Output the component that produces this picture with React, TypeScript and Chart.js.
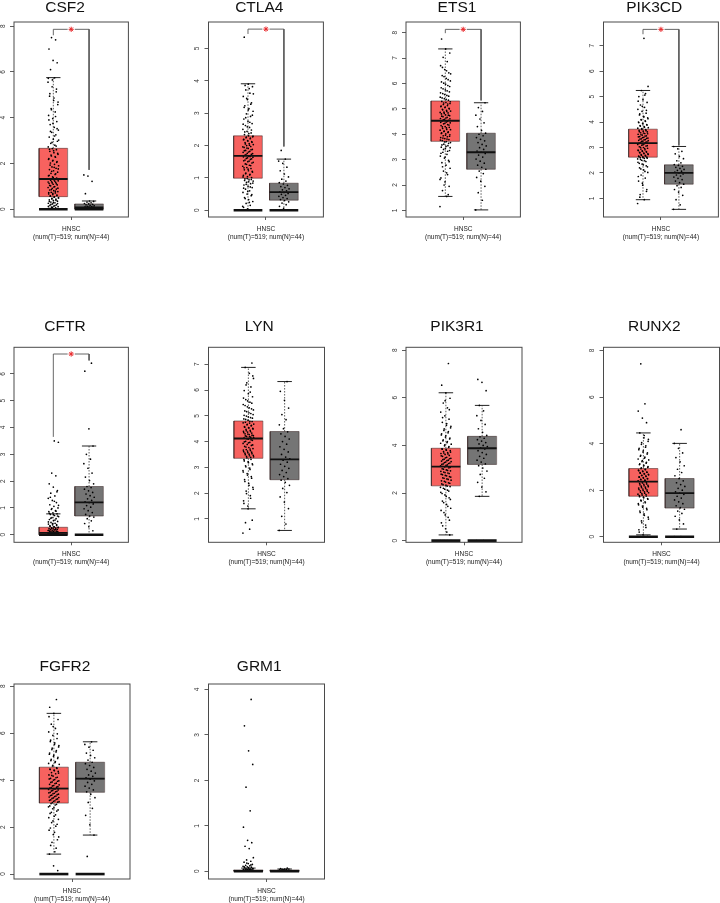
import React, { useEffect, useRef } from 'react';
import { Chart, registerables } from 'chart.js';

Chart.register(...registerables);

const FONT = "'Liberation Sans', Arial, Helvetica, sans-serif";
Chart.defaults.font.family = FONT;

// ---------------- data ----------------
const GENES = ['CSF2', 'CTLA4', 'ETS1', 'PIK3CD', 'CFTR', 'LYN', 'PIK3R1', 'RUNX2', 'FGFR2', 'GRM1'];
const X_LABEL = ['HNSC', '(num(T)=519; num(N)=44)'];

const Y_MIN = [-0.34, -0.21, 0.74, 0.27, -0.28, 0.09, -0.07, -0.24, -0.21, -0.17];
const Y_MAX = [8.18, 5.82, 8.42, 7.93, 6.99, 7.66, 8.12, 8.14, 8.09, 4.12];
const Y_TICKS = [
  [0, 2, 4, 6, 8],
  [0, 1, 2, 3, 4, 5],
  [1, 2, 3, 4, 5, 6, 7, 8],
  [1, 2, 3, 4, 5, 6, 7],
  [0, 1, 2, 3, 4, 5, 6],
  [1, 2, 3, 4, 5, 6, 7],
  [0, 2, 4, 6, 8],
  [0, 2, 4, 6, 8],
  [0, 2, 4, 6, 8],
  [0, 1, 2, 3, 4],
];

// [lower whisker, Q1, median, Q3, upper whisker]
const TUMOR_BOX = [
  [0, 0.55, 1.32, 2.66, 5.75],
  [0, 0.99, 1.68, 2.3, 3.91],
  [1.55, 3.72, 4.53, 5.31, 7.36],
  [0.95, 2.62, 3.17, 3.72, 5.24],
  [0, 0, 0.07, 0.28, 0.78],
  [1.39, 3.35, 4.12, 4.8, 6.88],
  [0.24, 2.3, 3.11, 3.88, 6.21],
  [0.08, 1.74, 2.37, 2.93, 4.46],
  [0.85, 3.02, 3.64, 4.55, 6.84],
  [0, 0, 0.01, 0.03, 0.07],
];
const NORMAL_BOX = [
  [0, 0, 0.08, 0.23, 0.36],
  [0, 0.31, 0.56, 0.835, 1.58],
  [1.02, 2.62, 3.29, 4.04, 5.24],
  [0.57, 1.56, 2.0, 2.32, 3.04],
  [0, 0.7, 1.21, 1.8, 3.31],
  [0.55, 2.52, 3.31, 4.39, 6.33],
  [1.86, 3.2, 3.88, 4.38, 5.68],
  [0.33, 1.23, 1.87, 2.5, 4.01],
  [1.66, 3.48, 4.06, 4.76, 5.63],
  [0, 0, 0.01, 0.03, 0.05],
];
const TUMOR_ZERO_BAR = [true, true, false, false, true, false, true, true, true, true];
const NORMAL_ZERO_BAR = [true, true, false, false, true, false, true, true, true, true];

// [bracket top, tumour leg end, normal leg end] or null
const SIG_BRACKET: (number[] | null)[] = [
  [7.86, 7.6, 1.72],
  [5.6, 5.45, 1.97],
  [8.13, 7.98, 5.33],
  [7.64, 7.45, 3.08],
  [6.74, 3.65, 6.5],
  null, null, null, null, null,
];

const CSF2_T = [0, 0, 0, 0, 0.02, 0.04, 0.06, 0.09, 0.11, 0.14, 0.17, 0.19, 0.23, 0.26, 0.28, 0.31, 0.35, 0.38, 0.41, 0.44, 0.47, 0.5, 0.53,
  0.57, 0.6, 0.64, 0.67, 0.71, 0.74, 0.77, 0.81, 0.84, 0.88, 0.91, 0.95, 0.99, 1.02, 1.06, 1.09, 1.13, 1.17, 1.2, 1.24, 1.28, 1.31,
  1.36, 1.41, 1.46, 1.52, 1.57, 1.62, 1.68, 1.73, 1.79, 1.85, 1.9, 1.96, 2.02, 2.08, 2.14, 2.21, 2.27, 2.33, 2.4, 2.47, 2.53, 2.6, 2.65,
  2.72, 2.8, 2.88, 2.97, 3.06, 3.15, 3.25, 3.36, 3.46, 3.58, 3.7, 3.83, 3.96, 4.1, 4.25, 4.4, 4.57, 4.75, 4.94, 5.13, 5.35, 5.55, 5.74,
  6.1, 6.4, 6.5, 7.0, 7.4, 7.5,
  0, 0, 0.01, 0.03, 0.08, 0.12, 0.16, 0.21, 0.25, 0.3, 0.34, 0.39, 0.45, 0.49, 0.54,
  0.58, 0.62, 0.69, 0.73, 0.79, 0.86, 0.92, 0.97, 1.04, 1.11, 1.15, 1.19, 1.23, 1.27, 1.3,
  1.38, 1.48, 1.55, 1.66, 1.76, 1.83, 1.93, 2.05, 2.11, 2.18, 2.3, 2.37, 2.44, 2.56, 2.62,
  2.76, 2.92, 3.02, 3.2, 3.4, 3.52, 3.75, 3.9, 4.05, 4.35, 4.68, 4.86, 5.05, 5.25, 5.65, 5.72];
const CSF2_N = [0, 0, 0, 0, 0, 0, 0, 0, 0.01, 0.02, 0.03, 0.04, 0.05, 0.06, 0.07, 0.08, 0.08, 0.09, 0.1, 0.11, 0.13, 0.15, 0.17, 0.19,
  0.21, 0.23, 0.25, 0.28, 0.31, 0.34, 0.36, 0.68, 1.22, 1.45, 1.5];

const CTLA4_T = [0, 0, 0, 0, 0.04, 0.09, 0.15, 0.21, 0.27, 0.33, 0.39, 0.45, 0.5, 0.55, 0.6, 0.65, 0.7, 0.74, 0.78, 0.82, 0.86, 0.9, 0.94, 0.97,
  1.01, 1.04, 1.08, 1.11, 1.15, 1.18, 1.22, 1.25, 1.29, 1.32, 1.36, 1.39, 1.43, 1.46, 1.5, 1.53, 1.57, 1.6, 1.64, 1.67,
  1.7, 1.73, 1.76, 1.79, 1.82, 1.85, 1.88, 1.91, 1.94, 1.97, 2.0, 2.03, 2.06, 2.09, 2.12, 2.15, 2.18, 2.21, 2.24, 2.27, 2.3,
  2.34, 2.39, 2.44, 2.5, 2.56, 2.62, 2.68, 2.75, 2.82, 2.9, 2.98, 3.06, 3.14, 3.23, 3.32, 3.42, 3.52, 3.62, 3.72, 3.82, 3.9, 5.35,
  0, 0.02, 0.12, 0.24, 0.36, 0.48, 0.58, 0.68, 0.72, 0.8, 0.84, 0.88, 0.92, 0.95, 0.98,
  1.03, 1.09, 1.13, 1.2, 1.27, 1.31, 1.38, 1.42, 1.48, 1.52, 1.55, 1.59, 1.62, 1.65, 1.66,
  1.72, 1.75, 1.8, 1.84, 1.87, 1.92, 1.96, 2.01, 2.05, 2.1, 2.14, 2.19, 2.23, 2.26, 2.29,
  2.37, 2.42, 2.48, 2.58, 2.66, 2.72, 2.86, 2.94, 3.1, 3.18, 3.28, 3.46, 3.6, 3.76, 3.86];
const CTLA4_N = [0, 0, 0, 0, 0.06, 0.12, 0.17, 0.22, 0.26, 0.3, 0.33, 0.36, 0.39, 0.43, 0.46, 0.49, 0.52, 0.55, 0.57, 0.6, 0.63, 0.66, 0.7,
  0.73, 0.77, 0.81, 0.85, 0.9, 0.96, 1.03, 1.12, 1.22, 1.33, 1.45, 1.52, 1.58, 1.85];

const ETS1_T = [1.15, 1.55, 1.78, 1.95, 2.12, 2.28, 2.41, 2.55, 2.66, 2.78, 2.88, 2.97, 3.06, 3.14, 3.21, 3.29, 3.36, 3.43, 3.49, 3.55, 3.61, 3.67, 3.71,
  3.75, 3.79, 3.83, 3.87, 3.9, 3.94, 3.98, 4.01, 4.05, 4.09, 4.12, 4.16, 4.19, 4.23, 4.27, 4.3, 4.34, 4.38, 4.41, 4.45, 4.48, 4.52,
  4.55, 4.59, 4.62, 4.66, 4.69, 4.73, 4.76, 4.8, 4.84, 4.87, 4.91, 4.94, 4.98, 5.02, 5.05, 5.09, 5.13, 5.17, 5.21, 5.25, 5.29,
  5.34, 5.4, 5.46, 5.53, 5.6, 5.67, 5.75, 5.83, 5.92, 6.01, 6.1, 6.2, 6.31, 6.42, 6.55, 6.7, 6.86, 7.03, 7.2, 7.36, 7.75,
  1.62, 2.0, 2.22, 2.48, 2.72, 2.92, 3.1, 3.25, 3.33, 3.4, 3.47, 3.52, 3.58, 3.64, 3.7,
  3.77, 3.81, 3.85, 3.92, 3.96, 4.03, 4.07, 4.11, 4.18, 4.25, 4.29, 4.36, 4.43, 4.47, 4.51,
  4.57, 4.61, 4.64, 4.71, 4.75, 4.82, 4.86, 4.9, 4.96, 5.0, 5.07, 5.11, 5.19, 5.23, 5.28,
  5.37, 5.43, 5.5, 5.56, 5.63, 5.71, 5.79, 5.88, 5.97, 6.06, 6.15, 6.27, 6.38, 6.5, 6.63];
const ETS1_N = [1.02, 1.4, 1.7, 1.95, 2.15, 2.3, 2.45, 2.55, 2.62, 2.7, 2.78, 2.86, 2.94, 3.02, 3.1, 3.18, 3.24, 3.29, 3.34, 3.4, 3.47, 3.54,
  3.6, 3.67, 3.74, 3.8, 3.87, 3.94, 4.0, 4.04, 4.15, 4.3, 4.45, 4.6, 4.75, 4.9, 5.05, 5.24];

const PIK3CD_T = [0.8, 0.95, 1.15, 1.35, 1.52, 1.68, 1.8, 1.92, 2.02, 2.12, 2.2, 2.28, 2.35, 2.42, 2.48, 2.53, 2.58, 2.61,
  2.64, 2.67, 2.7, 2.73, 2.76, 2.79, 2.82, 2.85, 2.88, 2.91, 2.94, 2.97, 3.0, 3.03, 3.06, 3.09, 3.12, 3.15,
  3.19, 3.22, 3.25, 3.28, 3.31, 3.34, 3.37, 3.4, 3.43, 3.46, 3.49, 3.52, 3.55, 3.58, 3.61, 3.64, 3.67, 3.7,
  3.74, 3.78, 3.82, 3.86, 3.9, 3.95, 4.0, 4.05, 4.1, 4.16, 4.22, 4.28, 4.35, 4.42, 4.5, 4.58, 4.67, 4.77, 4.88, 5.0, 5.12, 5.24, 5.4, 7.29,
  1.05, 1.28, 1.6, 1.86, 2.06, 2.16, 2.24, 2.32, 2.38, 2.45, 2.5, 2.55, 2.57, 2.6, 2.62,
  2.63, 2.66, 2.69, 2.72, 2.75, 2.78, 2.81, 2.84, 2.87, 2.9, 2.96, 3.01, 3.07, 3.11, 3.16,
  3.2, 3.24, 3.27, 3.3, 3.33, 3.36, 3.39, 3.42, 3.45, 3.5, 3.54, 3.57, 3.62, 3.66, 3.71,
  3.76, 3.8, 3.84, 3.88, 3.93, 3.98, 4.03, 4.08, 4.13, 4.2, 4.32, 4.46, 4.62, 4.82, 5.06];
const PIK3CD_N = [0.57, 0.75, 0.95, 1.12, 1.25, 1.35, 1.43, 1.5, 1.56, 1.62, 1.68, 1.74, 1.79, 1.84, 1.88, 1.92, 1.96, 2.0, 2.03, 2.07,
  2.1, 2.14, 2.18, 2.22, 2.26, 2.3, 2.33, 2.4, 2.48, 2.56, 2.65, 2.75, 2.85, 2.95, 3.04];

const CFTR_T = [0, 0, 0, 0, 0, 0, 0, 0, 0, 0, 0, 0, 0.01, 0.01, 0.02, 0.02, 0.03, 0.03, 0.04, 0.04, 0.05, 0.05, 0.06, 0.06, 0.07, 0.07,
  0.08, 0.09, 0.1, 0.11, 0.12, 0.13, 0.14, 0.15, 0.16, 0.18, 0.19, 0.2, 0.22, 0.23, 0.25, 0.26, 0.28,
  0.3, 0.32, 0.35, 0.37, 0.4, 0.43, 0.46, 0.5, 0.53, 0.57, 0.6, 0.64, 0.68, 0.72, 0.76, 0.78,
  0.82, 0.86, 0.9, 0.95, 1.0, 1.06, 1.12, 1.2, 1.28, 1.36, 1.45, 1.55, 1.65, 1.78, 1.9, 2.2, 2.3, 3.45, 3.5,
  0, 0, 0, 0, 0, 0, 0.01, 0.02, 0.03, 0.04, 0.05, 0.06, 0.08, 0.1, 0.12, 0.14, 0.17, 0.21, 0.24, 0.27, 0.29,
  0.33, 0.38, 0.42, 0.48, 0.55, 0.62, 0.7, 0.75, 0.8, 0.88, 0.98, 1.1, 1.25, 1.4, 1.6];
const CFTR_N = [0, 0, 0, 0.15, 0.3, 0.42, 0.52, 0.6, 0.66, 0.7, 0.76, 0.83, 0.9, 0.97, 1.03, 1.09, 1.15, 1.2, 1.23, 1.28, 1.34, 1.4,
  1.46, 1.52, 1.58, 1.64, 1.7, 1.76, 1.8, 1.9, 2.02, 2.15, 2.3, 2.48, 2.65, 2.82, 3.0, 3.31, 3.95, 6.1, 6.4];

const LYN_T = [0.45, 0.6, 0.85, 0.95, 1.39, 1.6, 1.8, 1.98, 2.15, 2.3, 2.45, 2.58, 2.7, 2.82, 2.92, 3.02, 3.1, 3.18, 3.25, 3.31,
  3.37, 3.41, 3.45, 3.49, 3.53, 3.57, 3.61, 3.65, 3.69, 3.73, 3.77, 3.81, 3.85, 3.89, 3.93, 3.97, 4.01, 4.05, 4.09,
  4.14, 4.17, 4.2, 4.23, 4.27, 4.3, 4.33, 4.37, 4.4, 4.44, 4.47, 4.51, 4.54, 4.58, 4.61, 4.65, 4.68, 4.72, 4.75, 4.78,
  4.83, 4.88, 4.93, 4.99, 5.05, 5.12, 5.19, 5.27, 5.35, 5.44, 5.53, 5.63, 5.74, 5.86, 5.98, 6.12, 6.28, 6.45, 6.65, 6.88, 7.05,
  1.5, 1.7, 1.9, 2.08, 2.22, 2.38, 2.52, 2.64, 2.76, 2.87, 2.97, 3.06, 3.14, 3.22, 3.3,
  3.39, 3.43, 3.47, 3.51, 3.55, 3.59, 3.63, 3.67, 3.71, 3.79, 3.87, 3.95, 3.99, 4.07, 4.11,
  4.15, 4.19, 4.22, 4.25, 4.29, 4.35, 4.39, 4.42, 4.49, 4.53, 4.56, 4.63, 4.67, 4.73, 4.79,
  4.86, 4.91, 4.96, 5.02, 5.09, 5.16, 5.23, 5.31, 5.4, 5.49, 5.58, 5.69, 5.92, 6.2, 6.55];
const LYN_N = [0.55, 0.8, 1.1, 1.4, 1.65, 1.85, 2.02, 2.18, 2.3, 2.42, 2.5, 2.56, 2.64, 2.72, 2.8, 2.88, 2.96, 3.04, 3.12, 3.2, 3.28,
  3.33, 3.4, 3.5, 3.6, 3.7, 3.8, 3.9, 4.0, 4.1, 4.2, 4.3, 4.38, 4.5, 4.65, 4.85, 5.05, 5.3, 5.6, 5.95, 6.33];

const PIK3R1_T = [0, 0, 0, 0.24, 0.5, 0.75, 0.98, 1.18, 1.36, 1.52, 1.66, 1.8, 1.92, 2.03, 2.12, 2.2, 2.27,
  2.33, 2.38, 2.43, 2.49, 2.54, 2.59, 2.64, 2.69, 2.74, 2.79, 2.84, 2.88, 2.93, 2.97, 3.02, 3.06, 3.1,
  3.14, 3.18, 3.22, 3.26, 3.3, 3.34, 3.38, 3.42, 3.46, 3.5, 3.54, 3.58, 3.62, 3.66, 3.7, 3.74, 3.78, 3.82, 3.86,
  3.92, 3.98, 4.05, 4.12, 4.19, 4.27, 4.35, 4.44, 4.53, 4.63, 4.74, 4.85, 4.97, 5.1, 5.24, 5.4, 5.58, 5.78, 5.98, 6.21, 6.53, 7.44,
  0, 0, 0.36, 0.62, 0.86, 1.08, 1.27, 1.44, 1.6, 1.73, 1.86, 1.98, 2.08, 2.16, 2.24, 2.29,
  2.35, 2.41, 2.46, 2.51, 2.57, 2.62, 2.67, 2.72, 2.77, 2.82, 2.86, 2.91, 2.95, 3.0, 3.08,
  3.16, 3.2, 3.24, 3.28, 3.32, 3.36, 3.4, 3.44, 3.48, 3.56, 3.64, 3.68, 3.72, 3.8, 3.84,
  3.95, 4.02, 4.09, 4.16, 4.23, 4.31, 4.4, 4.49, 4.58, 4.69, 4.8, 4.92, 5.17, 5.5, 5.88];
const PIK3R1_N = [0, 0, 1.86, 2.05, 2.25, 2.45, 2.62, 2.78, 2.92, 3.05, 3.15, 3.22, 3.3, 3.38, 3.46, 3.54, 3.62, 3.7, 3.78, 3.85, 3.9,
  3.95, 4.0, 4.06, 4.12, 4.18, 4.24, 4.3, 4.36, 4.42, 4.55, 4.7, 4.88, 5.05, 5.25, 5.45, 5.68, 6.3, 6.65, 6.77];

const RUNX2_T = [0, 0, 0, 0, 0.08, 0.3, 0.5, 0.68, 0.84, 0.98, 1.1, 1.22, 1.32, 1.42, 1.5, 1.57, 1.64, 1.7,
  1.77, 1.81, 1.85, 1.89, 1.93, 1.97, 2.01, 2.05, 2.09, 2.13, 2.17, 2.21, 2.25, 2.29, 2.33, 2.36,
  2.4, 2.43, 2.47, 2.5, 2.54, 2.57, 2.61, 2.64, 2.68, 2.71, 2.75, 2.78, 2.82, 2.86, 2.9, 2.93,
  2.98, 3.04, 3.1, 3.16, 3.23, 3.3, 3.38, 3.46, 3.55, 3.64, 3.74, 3.85, 3.97, 4.1, 4.25, 4.46, 4.9, 5.1, 5.4, 5.71, 7.43,
  0, 0, 0.2, 0.4, 0.6, 0.76, 0.92, 1.04, 1.16, 1.27, 1.37, 1.46, 1.54, 1.61, 1.67, 1.72,
  1.75, 1.79, 1.83, 1.87, 1.91, 1.95, 1.99, 2.03, 2.07, 2.11, 2.15, 2.19, 2.23, 2.27, 2.31,
  2.38, 2.42, 2.45, 2.49, 2.52, 2.56, 2.59, 2.63, 2.66, 2.7, 2.73, 2.77, 2.8, 2.84, 2.88,
  2.96, 3.01, 3.07, 3.13, 3.2, 3.27, 3.34, 3.42, 3.5, 3.6, 3.69, 3.8, 3.91, 4.04, 4.18, 4.35];
const RUNX2_N = [0, 0, 0.33, 0.55, 0.72, 0.88, 1.0, 1.1, 1.18, 1.25, 1.33, 1.42, 1.5, 1.58, 1.66, 1.74, 1.82, 1.87, 1.93, 2.0, 2.08,
  2.16, 2.24, 2.32, 2.4, 2.5, 2.62, 2.76, 2.9, 3.05, 3.22, 3.4, 3.6, 3.8, 4.01, 4.6];

const FGFR2_T = [0, 0, 0, 0.15, 0.35, 0.85, 1.1, 1.35, 1.58, 1.78, 1.96, 2.12, 2.26, 2.4, 2.52, 2.63, 2.73, 2.82, 2.9, 2.97,
  3.04, 3.08, 3.12, 3.16, 3.2, 3.24, 3.28, 3.32, 3.36, 3.4, 3.44, 3.48, 3.52, 3.56, 3.6, 3.63,
  3.68, 3.72, 3.77, 3.82, 3.87, 3.92, 3.97, 4.02, 4.07, 4.12, 4.17, 4.22, 4.27, 4.32, 4.37, 4.42, 4.47, 4.52,
  4.6, 4.67, 4.75, 4.83, 4.92, 5.01, 5.1, 5.2, 5.3, 5.41, 5.52, 5.64, 5.77, 5.9, 6.05, 6.2, 6.38, 6.58, 6.84, 7.1, 7.43,
  0, 0, 0.95, 1.22, 1.46, 1.68, 1.87, 2.04, 2.19, 2.33, 2.46, 2.58, 2.68, 2.78, 2.86, 2.94, 3.0,
  3.06, 3.1, 3.14, 3.18, 3.22, 3.26, 3.3, 3.34, 3.38, 3.42, 3.46, 3.5, 3.54, 3.58, 3.62,
  3.66, 3.7, 3.75, 3.8, 3.85, 3.9, 3.95, 4.0, 4.05, 4.1, 4.2, 4.3, 4.4, 4.45, 4.5,
  4.63, 4.71, 4.79, 4.88, 4.97, 5.06, 5.15, 5.25, 5.36, 5.47, 5.58, 5.7, 5.97, 6.28, 6.7];
const FGFR2_N = [0, 0, 0.75, 1.66, 2.1, 2.5, 2.8, 3.05, 3.25, 3.4, 3.5, 3.58, 3.66, 3.74, 3.82, 3.9, 3.97, 4.04, 4.1, 4.16, 4.22,
  4.3, 4.38, 4.46, 4.54, 4.62, 4.7, 4.76, 4.85, 4.95, 5.05, 5.15, 5.27, 5.4, 5.52, 5.63];

const GRM1_T = [0, 0, 0, 0, 0, 0, 0, 0, 0, 0, 0, 0, 0, 0, 0, 0.01, 0.01, 0.01, 0.01, 0.02, 0.02, 0.02, 0.03, 0.03, 0.03, 0.04, 0.04,
  0.05, 0.05, 0.06, 0.07, 0.08, 0.09, 0.1, 0.11, 0.12, 0.13, 0.15, 0.17, 0.2, 0.22, 0.25, 0.3, 0.5, 0.55, 0.63, 0.68, 0.97, 1.33,
  1.85, 2.35, 2.65, 3.2, 3.78,
  0, 0, 0, 0, 0, 0, 0, 0, 0, 0, 0.01, 0.01, 0.02, 0.02, 0.03, 0.04, 0.05, 0.06, 0.08, 0.1, 0.14, 0.18];
const GRM1_N = [0, 0, 0, 0, 0, 0, 0, 0, 0.01, 0.01, 0.02, 0.02, 0.03, 0.03, 0.04, 0.04, 0.05, 0.05, 0.06, 0.07];

const TUMOR_POINTS = [CSF2_T, CTLA4_T, ETS1_T, PIK3CD_T, CFTR_T, LYN_T, PIK3R1_T, RUNX2_T, FGFR2_T, GRM1_T];
const NORMAL_POINTS = [CSF2_N, CTLA4_N, ETS1_N, PIK3CD_N, CFTR_N, LYN_N, PIK3R1_N, RUNX2_N, FGFR2_N, GRM1_N];

// ---------------- layout / style ----------------
const COL_X = [14, 208.5, 406, 603.5];
const ROW_Y = [22, 347.3, 684];
const TITLE_Y = [7.3, 326.5, 666.8];
const BOX_W = 116;
const BOX_H = 195;
const TUMOR_FILL = '#F7625F';
const NORMAL_FILL = '#757575';
const HALF_W = 0.4;
const CAP_W = 0.2;
const JITTER = 0.3;

const framePlugin = {
  id: 'panelFrame',
  afterDraw(chart: any) {
    const { ctx, chartArea } = chart;
    ctx.save();
    ctx.strokeStyle = '#4a4a4a';
    ctx.lineWidth = 1;
    ctx.strokeRect(chartArea.left, chartArea.top, chartArea.right - chartArea.left, chartArea.bottom - chartArea.top);
    ctx.restore();
  },
};

const seg = (extra: any) => ({
  type: 'line',
  showLine: true,
  pointRadius: 0,
  pointHoverRadius: 0,
  fill: false,
  spanGaps: false,
  ...extra,
});

function groupDatasets(c: number, box: number[], pts: number[], zeroBar: boolean, fillColor: string) {
  const [lo, q1, med, q3, hi] = box;
  const ds: any[] = [
    seg({
      data: [{ x: c - HALF_W, y: q3 }, { x: c + HALF_W, y: q3 }],
      fill: { value: q1 },
      backgroundColor: fillColor,
      borderColor: 'rgba(0,0,0,0)',
      borderWidth: 1,
      order: 6,
    }),
    seg({
      data: [
        { x: c - HALF_W, y: q1 }, { x: c + HALF_W, y: q1 }, { x: c + HALF_W, y: q3 },
        { x: c - HALF_W, y: q3 }, { x: c - HALF_W, y: q1 },
      ],
      borderColor: 'rgba(40,20,20,0.6)',
      borderWidth: 0.8,
      order: 5,
    }),
    seg({
      data: [{ x: c, y: q3 }, { x: c, y: hi }, { x: c, y: null }, { x: c, y: q1 }, { x: c, y: lo }],
      borderColor: '#333',
      borderWidth: 0.8,
      borderDash: [1.5, 1.5],
      order: 4,
    }),
    seg({
      data: [
        { x: c - CAP_W, y: hi }, { x: c + CAP_W, y: hi }, { x: c + CAP_W, y: null },
        { x: c - CAP_W, y: lo }, { x: c + CAP_W, y: lo },
      ],
      borderColor: '#222',
      borderWidth: 1,
      order: 3,
    }),
    {
      type: 'line',
      showLine: false,
      data: pts.map((v, i) => ({ x: c + (((i * 0.6180339887) % 1) - 0.5) * JITTER, y: v })),
      pointRadius: 0.85,
      pointHoverRadius: 0,
      pointBackgroundColor: '#000',
      pointBorderWidth: 0,
      pointBorderColor: 'rgba(0,0,0,0)',
      order: 2,
    },
    seg({
      data: [{ x: c - HALF_W, y: med }, { x: c + HALF_W, y: med }],
      borderColor: '#111',
      borderWidth: 1.8,
      order: 1,
    }),
  ];
  if (zeroBar) {
    ds.push(seg({
      data: [{ x: c - HALF_W, y: 0 }, { x: c + HALF_W, y: 0 }],
      borderColor: '#111',
      borderWidth: 2.6,
      order: 1,
    }));
  }
  return ds;
}

function buildDatasets(i: number) {
  const ds: any[] = [
    ...groupDatasets(-0.5, TUMOR_BOX[i], TUMOR_POINTS[i], TUMOR_ZERO_BAR[i], TUMOR_FILL),
    ...groupDatasets(0.5, NORMAL_BOX[i], NORMAL_POINTS[i], NORMAL_ZERO_BAR[i], NORMAL_FILL),
  ];
  const b = SIG_BRACKET[i];
  if (b) {
    const [top, legT, legN] = b;
    ds.push(seg({
      data: [
        { x: -0.5, y: legT }, { x: -0.5, y: top }, { x: -0.1, y: top }, { x: 0, y: null },
        { x: 0.1, y: top }, { x: 0.5, y: top }, { x: 0.5, y: legN },
      ],
      borderColor: '#555',
      borderWidth: 0.9,
      order: 0,
    }));
    ds.push({
      type: 'line',
      showLine: false,
      data: [{ x: 0, y: top }],
      pointStyle: 'star',
      pointRadius: 2.6,
      pointHoverRadius: 0,
      pointBorderColor: '#E8282B',
      pointBackgroundColor: '#E8282B',
      pointBorderWidth: 1,
      order: 0,
    });
  }
  return ds;
}

function Panel({ index }: { index: number }) {
  const ref = useRef<HTMLCanvasElement>(null);
  const col = index % 4;
  const row = Math.floor(index / 4);
  const boxLeft = COL_X[col];
  const boxTop = ROW_Y[row];
  const titleY = TITLE_Y[row];
  const canvasLeft = Math.floor(boxLeft - 14);
  const yw = boxLeft - canvasLeft;
  const width = Math.ceil(yw + BOX_W + 2);
  const padRight = width - yw - BOX_W;
  const canvasTop = Math.floor(titleY - 11.3);
  const height = Math.ceil(boxTop + BOX_H - canvasTop + 30);
  const xh = height - (boxTop + BOX_H - canvasTop);
  const titleSize = 15.5;
  const titleHalf = (titleSize * 1.2) / 2;

  useEffect(() => {
    const chart = new Chart(ref.current as HTMLCanvasElement, {
      type: 'line',
      data: { datasets: buildDatasets(index) },
      options: {
        responsive: false,
        animation: false,
        events: [],
        layout: { padding: { left: 0, right: padRight, top: 0, bottom: 0 } },
        plugins: {
          legend: { display: false },
          tooltip: { enabled: false },
          title: {
            display: true,
            text: GENES[index],
            color: '#111',
            font: { size: titleSize, weight: 'normal', family: FONT, lineHeight: 1.2 },
            padding: { top: titleY - titleHalf - canvasTop, bottom: boxTop - titleY - titleHalf },
          },
        },
        scales: {
          x: {
            type: 'linear',
            min: -1.6,
            max: 1.6,
            afterBuildTicks: (s: any) => { s.ticks = [{ value: 0 }]; },
            afterFit: (s: any) => { s.height = xh; },
            ticks: {
              callback: () => X_LABEL,
              font: { size: 6.5, family: FONT, lineHeight: 1.3 },
              color: '#222',
              padding: 4.5,
              maxRotation: 0,
              minRotation: 0,
              autoSkip: false,
            },
            grid: { drawOnChartArea: false, drawTicks: true, tickLength: 3, color: '#333', lineWidth: 0.8 },
            border: { display: false },
          },
          y: {
            type: 'linear',
            min: Y_MIN[index],
            max: Y_MAX[index],
            afterBuildTicks: (s: any) => { s.ticks = Y_TICKS[index].map((v) => ({ value: v })); },
            afterFit: (s: any) => { s.width = yw; },
            ticks: {
              minRotation: 90,
              maxRotation: 90,
              crossAlign: 'center',
              padding: 5,
              font: { size: 6.5, family: FONT },
              color: '#333',
              callback: (v: any) => String(v),
            },
            grid: { drawOnChartArea: false, drawTicks: true, tickLength: 4, color: '#333', lineWidth: 0.8 },
            border: { display: false },
          },
        },
      } as any,
      plugins: [framePlugin],
    } as any);
    return () => chart.destroy();
  }, []);

  return (
    <canvas
      ref={ref}
      width={width}
      height={height}
      style={{ position: 'absolute', left: canvasLeft, top: canvasTop, width, height }}
    />
  );
}

export default function App() {
  return (
    <div style={{ position: 'absolute', left: 0, top: 0, width: 720, height: 903, overflow: 'hidden', background: '#fff' }}>
      {GENES.map((g, i) => (
        <Panel key={g} index={i} />
      ))}
    </div>
  );
}
